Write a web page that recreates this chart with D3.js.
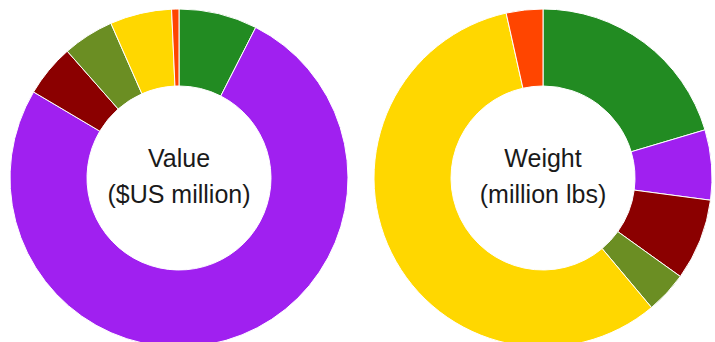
<!DOCTYPE html>
<html>
<head>
<meta charset="utf-8">
<script src="https://cdn.jsdelivr.net/npm/d3@7"></script>
<style>
  html, body { margin: 0; padding: 0; background: #fff; overflow: hidden; }
  svg { display: block; }
  .titulo { font-family: "Liberation Sans", Arial, Helvetica, sans-serif; font-size: 25px; fill: #1a1a1a; }
</style>
</head>
<body>
<svg id="grafico"></svg>
<script>
// categorias na ordem do relógio, a partir das 12h
const categorias = ["A", "B", "C", "D", "E", "F"];
const cores = ["#228B22", "#A020F0", "#8B0000", "#6B8E23", "#FFD700", "#FF4500"];

const valores = [7.5, 76.0, 5.0, 4.9, 5.9, 0.7];
const pesos   = [20.4, 6.7, 7.8, 4.0, 57.6, 3.5];

const titulos = [
    { linhas: ["Value", "($US million)"], dados: valores },
    { linhas: ["Weight", "(million lbs)"], dados: pesos }
];

const width = 715, height = 342;
const raioExt = 169, raioInt = 92;
const centros = [179, 543];
const cy = 178;

const svg = d3.select("#grafico").attr("width", width).attr("height", height);

const cor = d3.scaleOrdinal().domain(categorias).range(cores);
const pie = d3.pie().sort(null).value(d => d.v);
const arc = d3.arc().innerRadius(raioInt).outerRadius(raioExt);

titulos.forEach((t, i) => {
    const g = svg.append("g").attr("transform", `translate(${centros[i]},${cy})`);
    const linhas = categorias.map((c, k) => ({ c: c, v: t.dados[k] }));

    g.selectAll("path")
        .data(pie(linhas))
        .join("path")
        .attr("d", arc)
        .attr("fill", d => cor(d.data.c))
        .attr("stroke", "#fff")
        .attr("stroke-width", 1);

    const txt = g.append("text").attr("class", "titulo").attr("text-anchor", "middle");
    txt.append("tspan").attr("x", 0).attr("y", -11).text(t.linhas[0]);
    txt.append("tspan").attr("x", 0).attr("y", 25).text(t.linhas[1]);
});
</script>
</body>
</html>
